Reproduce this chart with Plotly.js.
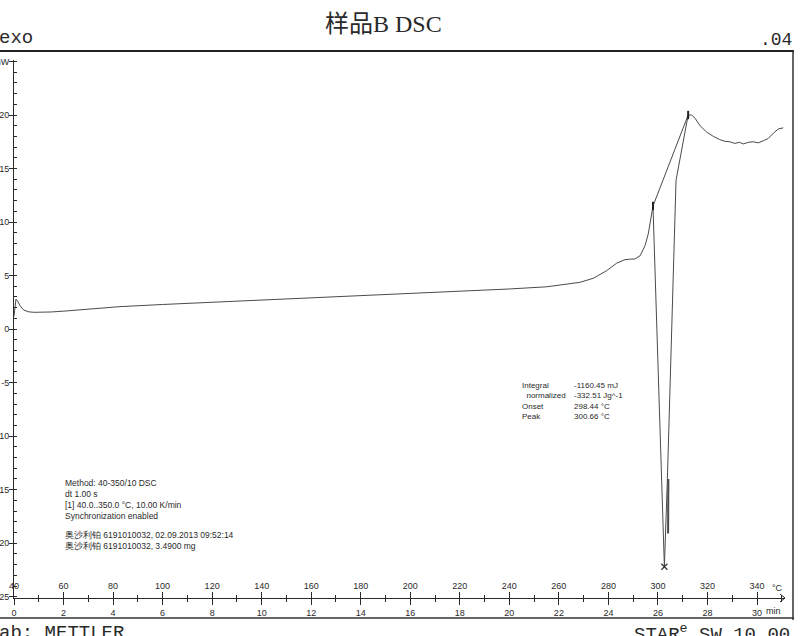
<!DOCTYPE html>
<html>
<head>
<meta charset="utf-8">
<script src="https://cdn.plot.ly/plotly-3.0.1.min.js"></script>
<style>html,body{margin:0;padding:0;background:#fff;}#chart{width:800px;height:636px;}</style>
</head>
<body>
<div id="chart"></div>
<script>
// ---- data ----
const temperatureC = [40.0, 40.4, 40.8, 41.5, 42.4, 43.8, 45.8, 48, 50.5, 55, 61.3, 72, 82.8, 100, 120, 150, 180, 200, 220, 240, 255, 260.5, 264.5, 268.5, 273.9, 279.3, 283.3, 286.7, 288.5, 290.7, 292.8, 294.8, 296.1, 297.2, 298.0, 302.6, 303.8, 307.3, 312.2, 313.6, 315, 317, 319.7, 322.4, 325, 327, 329, 331, 333, 334.5, 336.5, 338.5, 340.5, 342.6, 344.5, 346.6, 348.6, 350.6];
const heatFlow_mW = [1.2, 2.2, 2.8, 2.6, 2.2, 1.8, 1.62, 1.57, 1.56, 1.6, 1.7, 1.93, 2.1, 2.3, 2.5, 2.85, 3.15, 3.35, 3.55, 3.75, 3.95, 4.12, 4.25, 4.37, 4.75, 5.46, 6.15, 6.49, 6.53, 6.55, 6.86, 7.8, 8.9, 10.2, 11.5, -22.2, -14.1, 13.9, 20.0, 20.0, 19.7, 19.0, 18.4, 18.0, 17.7, 17.55, 17.5, 17.35, 17.45, 17.3, 17.45, 17.5, 17.4, 17.6, 17.8, 18.3, 18.7, 18.8];
const thickSegT = [304.1, 304.2];
const thickSegHF = [-19.1, -14.0];
const baselineT = [298.0, 312.2];
const baselineHF = [11.5, 20.0];
const peakT = [302.6];
const peakHF = [-22.2];
const yTickVals = [-25, -20, -15, -10, -5, 0, 5, 10, 15, 20, 25];
const yTickText = ['-25', '-20', '-15', '-10', '-5', '0', '5', '10', '15', '20', 'mW'];
const resultLabels = ['Integral', '\u00a0\u00a0normalized', 'Onset', 'Peak'];
const resultValues = ['-1160.45 mJ', '-332.51 Jg^-1', '298.44 \u00b0C', '300.66 \u00b0C'];
const methodLines = ['Method: 40-350/10 DSC', 'dt 1.00 s', '[1] 40.0..350.0 \u00b0C, 10.00 K/min', 'Synchronization enabled'];
const sampleLines = ['\u5965\u6c99\u5229\u94c2 6191010032, 02.09.2013 09:52:14', '\u5965\u6c99\u5229\u94c2 6191010032, 3.4900 mg'];
const startC = 40, rateKperMin = 10;
const timeMin = temperatureC.map(t => (t - startC) / rateKperMin);

// ---- layout geometry ----
const L = 14, R = 15, T = 60, B = 38, W = 800, H = 636;
const pw = W - L - R, ph = H - T - B;
const pxPerC = 2.4767;
const xMax = startC + pw / pxPerC;
const px = p => (p - L) / pw;
const py = p => (H - B - p) / ph;
const ink = '#2a2a2a';
const sans = 'Liberation Sans, Arial, sans-serif';
const mono = 'Liberation Mono, DejaVu Sans Mono, monospace';

const traces = [
  {x: timeMin, y: heatFlow_mW, xaxis: 'x2', type: 'scatter', mode: 'lines', line: {color: 'rgba(0,0,0,0)', width: 0}, hoverinfo: 'skip'},
  {x: temperatureC, y: heatFlow_mW, type: 'scatter', mode: 'lines', line: {color: '#4a4a4a', width: 1}, hoverinfo: 'skip'},
  {x: thickSegT, y: thickSegHF, type: 'scatter', mode: 'lines', line: {color: '#4a4a4a', width: 2}, hoverinfo: 'skip'},
  {x: baselineT, y: baselineHF, type: 'scatter', mode: 'lines+markers', line: {color: '#4a4a4a', width: 1},
   marker: {symbol: 'line-ns', size: 6, line: {color: '#222', width: 2}}, hoverinfo: 'skip'},
  {x: peakT, y: peakHF, type: 'scatter', mode: 'markers', marker: {symbol: 'x-thin', size: 6, line: {color: '#333', width: 1.2}}, hoverinfo: 'skip'}
];

const ann = [];
const add = (text, x, y, o) => ann.push(Object.assign({text, x, y, xref: 'paper', yref: 'paper', showarrow: false, xanchor: 'left', yanchor: 'middle', align: 'left', font: {family: sans, size: 8, color: ink}}, o || {}));
add('\u6837\u54c1B DSC', px(383), py(24), {xanchor: 'center', font: {family: 'Liberation Serif, Noto Sans CJK SC, serif', size: 24, color: ink}});
add('exo', px(-3), py(38), {font: {family: mono, size: 19, color: ink}});
add('.04', px(794), py(40), {xanchor: 'right', font: {family: mono, size: 18, color: ink}});
add('ab: METTLER', px(-3), py(633), {font: {family: mono, size: 19, color: ink}});
add('STAR<sup>e</sup> SW 10.00', px(792), py(633), {xanchor: 'right', font: {family: mono, size: 19, color: ink}});
add(resultLabels.join('<br>'), px(520), py(401), {font: {family: sans, size: 8, color: ink}});
add(resultValues.join('<br>'), px(572), py(401), {font: {family: sans, size: 8, color: ink}});
add(methodLines.join('<br>'), px(63), py(499.5), {font: {family: sans, size: 8.5, color: ink}});
add(sampleLines.join('<br>'), px(63), py(540.5), {font: {family: sans, size: 8.5, color: ink}});
add('\u00b0C', px(777), py(588), {xanchor: 'center', font: {family: sans, size: 9, color: ink}});
add('min', px(773), py(611), {xanchor: 'center', font: {family: sans, size: 9, color: ink}});

const shapes = [
  {type: 'line', xref: 'paper', yref: 'paper', x0: px(0), x1: px(794), y0: py(51), y1: py(51), line: {color: '#222', width: 2}},
  {type: 'line', xref: 'paper', yref: 'paper', x0: px(0), x1: px(794), y0: py(618), y1: py(618), line: {color: '#333', width: 1.5}},
  {type: 'line', xref: 'paper', yref: 'paper', x0: px(793), x1: px(793), y0: py(51), y1: py(620), line: {color: '#333', width: 1.5}},
  {type: 'path', xref: 'paper', yref: 'paper', path: 'M ' + px(780) + ' ' + py(594) + ' L ' + px(785) + ' ' + py(598) + ' L ' + px(780) + ' ' + py(602), line: {color: ink, width: 1}}
];

const layout = {
  width: W, height: H,
  margin: {l: L, r: R, t: T, b: B, pad: 0},
  paper_bgcolor: '#fff', plot_bgcolor: '#fff',
  showlegend: false,
  xaxis: {
    range: [startC, xMax], tick0: 40, dtick: 20, ticks: 'inside', ticklen: 6, tickcolor: ink, tickwidth: 1,
    ticklabelposition: 'inside', ticklabeloverflow: 'allow', tickfont: {family: sans, size: 9, color: ink},
    minor: {dtick: 10, ticks: 'inside', ticklen: 3, tickcolor: ink, showgrid: false},
    showline: true, linecolor: ink, linewidth: 1, showgrid: false, zeroline: false, fixedrange: true
  },
  xaxis2: {
    overlaying: 'x', anchor: 'y', side: 'bottom',
    range: [0, (xMax - startC) / rateKperMin], tick0: 0, dtick: 2, ticks: 'outside', ticklen: 6, tickcolor: ink,
    tickfont: {family: sans, size: 9, color: ink}, ticklabeloverflow: 'allow',
    minor: {dtick: 1, ticks: 'outside', ticklen: 3, tickcolor: ink, showgrid: false},
    showline: false, showgrid: false, zeroline: false, fixedrange: true
  },
  yaxis: {
    range: [-25.12, 25.14], tickmode: 'array', tickvals: yTickVals, ticktext: yTickText,
    ticks: 'outside', ticklen: 4, tickcolor: ink, tickfont: {family: sans, size: 9, color: ink},
    ticklabelstandoff: -2, ticklabeloverflow: 'allow',
    minor: {dtick: 1, ticks: 'inside', ticklen: 3, tickcolor: ink, showgrid: false},
    showline: true, linecolor: ink, linewidth: 1, showgrid: false, zeroline: false, fixedrange: true
  },
  annotations: ann,
  shapes: shapes
};

Plotly.newPlot('chart', traces, layout, {displayModeBar: false, staticPlot: true});
</script>
</body>
</html>
